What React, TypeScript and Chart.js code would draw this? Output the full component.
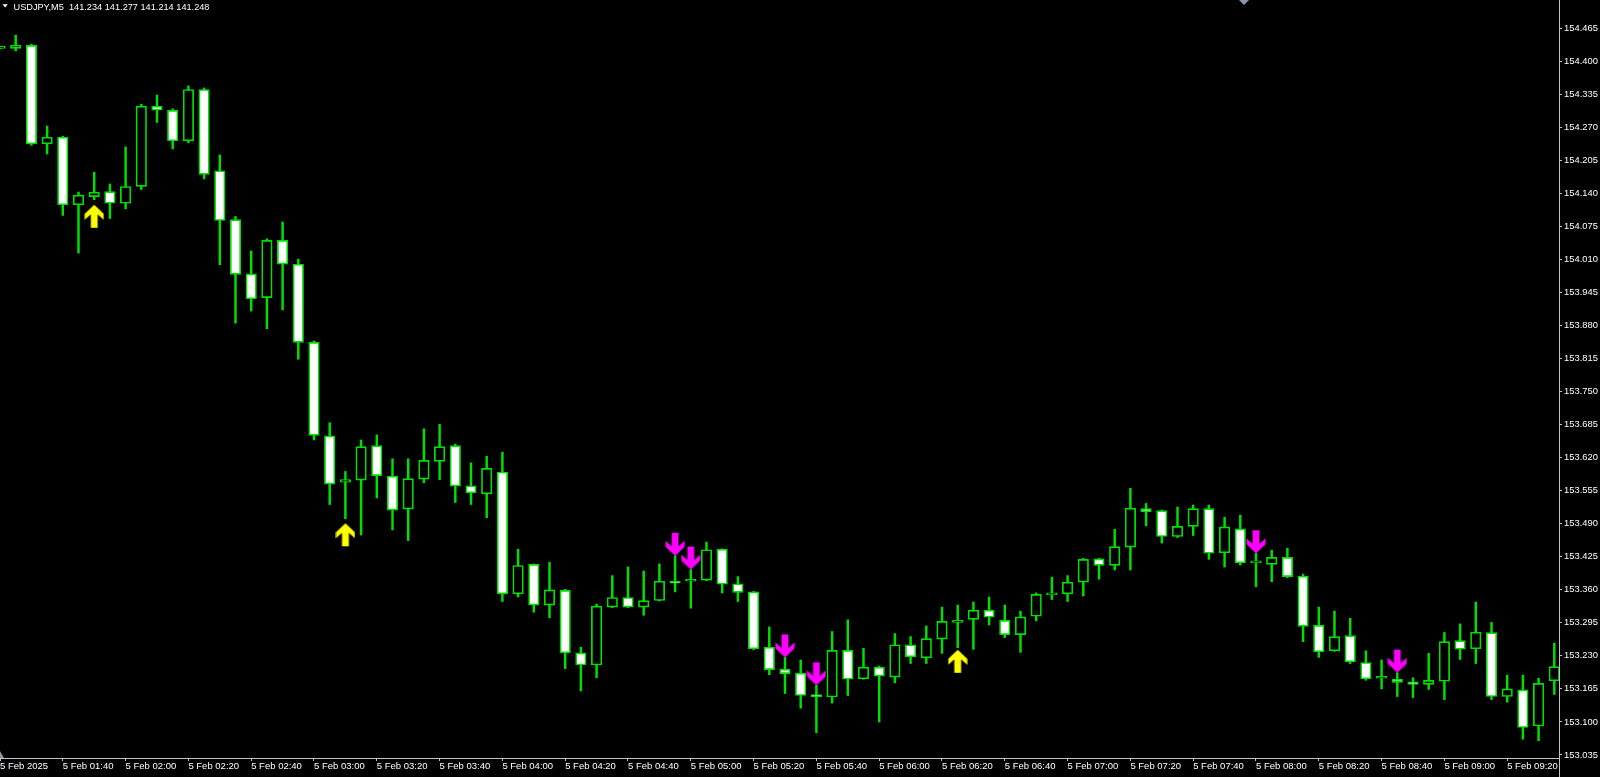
import React, { useEffect, useRef } from "react";
import { Chart, registerables } from "chart.js";

Chart.register(...registerables);

// ---------------- data ----------------
const symbolTitle = "USDJPY,M5  141.234 141.277 141.214 141.248";

const opens = [
  154.426, 154.426, 154.432, 154.238, 154.251, 154.118, 154.134, 154.144, 154.121, 154.154,
  154.312, 154.304, 154.244, 154.345, 154.185, 154.089, 153.982, 153.935, 154.048, 154.001,
  153.847, 153.663, 153.572, 153.576, 153.644, 153.584, 153.519, 153.578, 153.613, 153.644,
  153.565, 153.549, 153.592, 153.352, 153.410, 153.330, 153.359, 153.236, 153.212, 153.326,
  153.345, 153.326, 153.339, 153.377, 153.377, 153.379, 153.440, 153.372, 153.356, 153.247,
  153.204, 153.196, 153.154, 153.149, 153.241, 153.185, 153.208, 153.188, 153.252, 153.226,
  153.263, 153.296, 153.302, 153.320, 153.300, 153.272, 153.308, 153.350, 153.352, 153.375,
  153.421, 153.408, 153.444, 153.520, 153.516, 153.465, 153.485, 153.520, 153.433, 153.480,
  153.413, 153.410, 153.424, 153.387, 153.290, 153.240, 153.270, 153.217, 153.186, 153.184,
  153.179, 153.174, 153.180, 153.260, 153.244, 153.276, 153.150, 153.163, 153.092, 153.181,
];
const highs = [
  154.429, 154.452, 154.434, 154.273, 154.253, 154.143, 154.182, 154.159, 154.232, 154.316,
  154.334, 154.307, 154.352, 154.348, 154.216, 154.095, 154.027, 154.051, 154.084, 154.011,
  153.850, 153.689, 153.593, 153.655, 153.665, 153.618, 153.618, 153.677, 153.686, 153.647,
  153.610, 153.623, 153.631, 153.440, 153.411, 153.414, 153.361, 153.247, 153.332, 153.388,
  153.405, 153.397, 153.411, 153.427, 153.400, 153.454, 153.441, 153.386, 153.357, 153.287,
  153.227, 153.222, 153.172, 153.278, 153.301, 153.245, 153.210, 153.274, 153.268, 153.289,
  153.326, 153.330, 153.336, 153.346, 153.330, 153.318, 153.354, 153.385, 153.388, 153.422,
  153.422, 153.479, 153.560, 153.530, 153.517, 153.523, 153.527, 153.527, 153.503, 153.507,
  153.432, 153.438, 153.442, 153.391, 153.326, 153.318, 153.304, 153.240, 153.222, 153.197,
  153.187, 153.235, 153.276, 153.293, 153.336, 153.296, 153.192, 153.192, 153.186, 153.255,
];
const lows = [
  154.425, 154.421, 154.235, 154.218, 154.097, 154.023, 154.128, 154.091, 154.110, 154.148,
  154.280, 154.228, 154.240, 154.169, 154.000, 153.885, 153.909, 153.874, 153.911, 153.814,
  153.655, 153.528, 153.500, 153.468, 153.541, 153.478, 153.457, 153.571, 153.577, 153.532,
  153.528, 153.502, 153.337, 153.346, 153.316, 153.305, 153.205, 153.161, 153.187, 153.325,
  153.325, 153.310, 153.338, 153.356, 153.324, 153.378, 153.354, 153.337, 153.242, 153.193,
  153.156, 153.127, 153.079, 153.137, 153.152, 153.184, 153.100, 153.177, 153.215, 153.215,
  153.235, 153.246, 153.243, 153.291, 153.266, 153.237, 153.299, 153.341, 153.337, 153.348,
  153.381, 153.399, 153.399, 153.486, 153.452, 153.463, 153.467, 153.420, 153.405, 153.409,
  153.366, 153.376, 153.384, 153.258, 153.227, 153.239, 153.215, 153.182, 153.165, 153.150,
  153.148, 153.164, 153.144, 153.223, 153.215, 153.144, 153.139, 153.066, 153.063, 153.154,
];
const closes = [
  154.428, 154.432, 154.238, 154.251, 154.118, 154.137, 154.143, 154.121, 154.154, 154.312,
  154.304, 154.244, 154.345, 154.178, 154.087, 153.981, 153.933, 154.048, 154.001, 153.847,
  153.664, 153.568, 153.577, 153.642, 153.585, 153.517, 153.579, 153.615, 153.642, 153.564,
  153.551, 153.599, 153.352, 153.408, 153.330, 153.360, 153.236, 153.212, 153.328, 153.345,
  153.326, 153.339, 153.377, 153.373, 153.379, 153.439, 153.371, 153.355, 153.244, 153.203,
  153.195, 153.152, 153.149, 153.241, 153.184, 153.208, 153.190, 153.252, 153.228, 153.264,
  153.298, 153.300, 153.320, 153.306, 153.272, 153.307, 153.351, 153.352, 153.375, 153.420,
  153.408, 153.445, 153.521, 153.514, 153.465, 153.485, 153.520, 153.432, 153.484, 153.413,
  153.414, 153.424, 153.386, 153.288, 153.238, 153.268, 153.218, 153.185, 153.187, 153.178,
  153.174, 153.182, 153.258, 153.243, 153.277, 153.150, 153.165, 153.089, 153.176, 153.209,
];

const upArrowBars = [6, 22, 61];
const upArrowPrices = [154.118, 153.491, 153.242];
const downArrowBars = [43, 44, 50, 52, 80, 89];
const downArrowPrices = [153.427, 153.4, 153.227, 153.172, 153.432, 153.197];

const timeTickBars = [0, 4, 8, 12, 16, 20, 24, 28, 32, 36, 40, 44, 48, 52, 56, 60, 64, 68, 72, 76, 80, 84, 88, 92, 96];
const timeTickLabels = [
  "5 Feb 2025", "5 Feb 01:40", "5 Feb 02:00", "5 Feb 02:20", "5 Feb 02:40", "5 Feb 03:00",
  "5 Feb 03:20", "5 Feb 03:40", "5 Feb 04:00", "5 Feb 04:20", "5 Feb 04:40", "5 Feb 05:00",
  "5 Feb 05:20", "5 Feb 05:40", "5 Feb 06:00", "5 Feb 06:20", "5 Feb 06:40", "5 Feb 07:00",
  "5 Feb 07:20", "5 Feb 07:40", "5 Feb 08:00", "5 Feb 08:20", "5 Feb 08:40", "5 Feb 09:00",
  "5 Feb 09:20",
];
const priceTicks = [
  153.035, 153.1, 153.165, 153.23, 153.295, 153.36, 153.425, 153.49, 153.555, 153.62, 153.685,
  153.75, 153.815, 153.88, 153.945, 154.01, 154.075, 154.14, 154.205, 154.27, 154.335, 154.4, 154.465,
];

// ---------------- style ----------------
const GREEN = "#00e000";
const AXIS = "#c4c4c4";
const TEXT = "#ffffff";
const FONT = "Liberation Sans";

function makeArrow(up: boolean, color: string): HTMLCanvasElement {
  const c = document.createElement("canvas");
  c.width = 20;
  c.height = 50;
  const g = c.getContext("2d")!;
  const cx = 10;
  const ty = 25;
  const s = up ? 1 : -1;
  const pts: [number, number][] = [
    [0, 0], [9.5, 9], [9.5, 15], [3.4, 9.5], [3.4, 23], [-3.4, 23], [-3.4, 9.5], [-9.5, 15], [-9.5, 9],
  ];
  g.fillStyle = color;
  g.beginPath();
  pts.forEach(([dx, dy], k) => {
    const x = cx + dx;
    const y = ty + s * dy;
    if (k === 0) g.moveTo(x, y);
    else g.lineTo(x, y);
  });
  g.closePath();
  g.fill();
  return c;
}

const overlayPlugin = {
  id: "mtOverlay",
  afterDraw(chart: any) {
    const ctx = chart.ctx as CanvasRenderingContext2D;
    const area = chart.chartArea;
    ctx.save();
    ctx.strokeStyle = AXIS;
    ctx.lineWidth = 1;
    ctx.beginPath();
    ctx.moveTo(Math.round(area.right) + 0.5, 0);
    ctx.lineTo(Math.round(area.right) + 0.5, chart.height);
    ctx.stroke();
    // title
    ctx.fillStyle = "#ffffff";
    ctx.beginPath();
    ctx.moveTo(2.5, 4.3);
    ctx.lineTo(7.8, 4.3);
    ctx.lineTo(5.15, 7.6);
    ctx.closePath();
    ctx.fill();
    ctx.font = `9.2px "${FONT}"`;
    ctx.textBaseline = "alphabetic";
    ctx.textAlign = "left";
    ctx.fillText(symbolTitle, 13.5, 9.8);
    // chart shift marker (top) and scale marker (bottom-left)
    ctx.fillStyle = "#8a96a8";
    ctx.beginPath();
    ctx.moveTo(1239, 0);
    ctx.lineTo(1249, 0);
    ctx.lineTo(1244, 5);
    ctx.closePath();
    ctx.fill();
    ctx.beginPath();
    ctx.moveTo(0, 751);
    ctx.lineTo(4, 758);
    ctx.lineTo(0, 758);
    ctx.closePath();
    ctx.fill();
    ctx.restore();
  },
};

export default function App() {
  const ref = useRef<HTMLCanvasElement | null>(null);

  useEffect(() => {
    document.body.style.margin = "0";
    document.body.style.background = "#000";
    if (!ref.current) return;

    const bodyData = opens.map((o, i) => ({ x: i, y: [Math.min(o, closes[i]), Math.max(o, closes[i])] }));
    const bodyFill = opens.map((o, i) => (closes[i] < o ? "#ffffff" : "#000000"));
    const wickData = highs.map((h, i) => ({ x: i, y: [lows[i], h] }));

    const upImg = makeArrow(true, "#ffff00");
    const downImg = makeArrow(false, "#ff00ff");

    const chart = new Chart(ref.current, {
      type: "bar",
      data: {
        datasets: [
          {
            type: "scatter",
            label: "buy",
            data: upArrowBars.map((x, k) => ({ x, y: upArrowPrices[k] })),
            pointStyle: upImg as any,
            pointRadius: 5,
            order: 0,
          } as any,
          {
            type: "scatter",
            label: "sell",
            data: downArrowBars.map((x, k) => ({ x, y: downArrowPrices[k] })),
            pointStyle: downImg as any,
            pointRadius: 5,
            order: 0,
          } as any,
          {
            type: "bar",
            label: "body",
            data: bodyData as any,
            backgroundColor: bodyFill,
            borderColor: GREEN,
            borderWidth: 1.7,
            borderSkipped: false,
            barThickness: 10.5,
            minBarLength: 2,
            grouped: false,
            order: 1,
          } as any,
          {
            type: "bar",
            label: "wick",
            data: wickData as any,
            backgroundColor: GREEN,
            borderWidth: 0,
            barThickness: 1.8,
            grouped: false,
            order: 2,
          } as any,
        ],
      },
      options: {
        responsive: false,
        maintainAspectRatio: false,
        devicePixelRatio: 1,
        animation: false,
        events: [],
        layout: { padding: 0, autoPadding: false },
        plugins: { legend: { display: false }, tooltip: { enabled: false } },
        scales: {
          x: {
            type: "linear",
            min: 0,
            max: 99.3,
            offset: false,
            grid: { display: true, drawOnChartArea: false, drawTicks: true, tickLength: 3, color: AXIS, offset: false },
            border: { display: true, color: AXIS, width: 1 },
            ticks: {
              autoSkip: false,
              maxRotation: 0,
              minRotation: 0,
              align: "start",
              padding: 0,
              color: TEXT,
              font: { family: FONT, size: 9.5 },
              callback: (_v: any, idx: number) => timeTickLabels[idx] ?? "",
            },
            afterBuildTicks: (s: any) => {
              s.ticks = timeTickBars.map((v) => ({ value: v }));
            },
            afterFit: (s: any) => {
              s.height = 19;
              s.paddingLeft = 0;
              s.paddingRight = 0;
            },
          } as any,
          y: {
            type: "linear",
            position: "right",
            min: 153.029,
            max: 154.5211,
            beginAtZero: false,
            grid: { display: true, drawOnChartArea: false, drawTicks: true, tickLength: 3, color: AXIS },
            border: { display: true, color: AXIS, width: 1 },
            ticks: {
              padding: 2,
              color: TEXT,
              font: { family: FONT, size: 9.4 },
              callback: (_v: any, idx: number) => (priceTicks[idx] !== undefined ? priceTicks[idx].toFixed(3) : ""),
            },
            afterBuildTicks: (s: any) => {
              s.ticks = priceTicks.map((v) => ({ value: v }));
            },
            afterFit: (s: any) => {
              s.width = 41;
              s.paddingTop = 0;
              s.paddingBottom = 0;
            },
          } as any,
        },
      },
      plugins: [overlayPlugin],
    });

    return () => chart.destroy();
  }, []);

  return (
    <div style={{ width: 1600, height: 777, background: "#000", position: "relative" }}>
      <canvas ref={ref} width={1600} height={777} style={{ display: "block", width: 1600, height: 777 }} />
    </div>
  );
}
